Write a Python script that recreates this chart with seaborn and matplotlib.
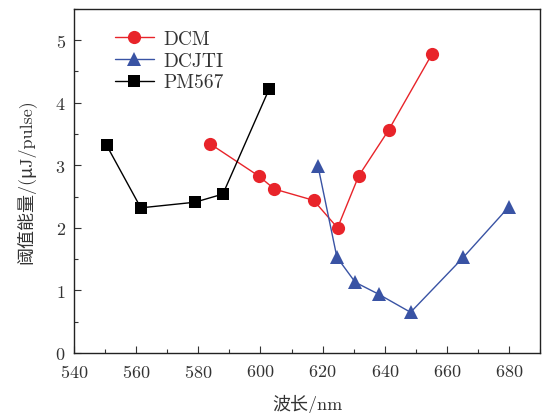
import seaborn as sns
import matplotlib.pyplot as plt
import pandas as pd
from matplotlib.ticker import MultipleLocator

# data
dcm_x = [583.9, 599.4, 604.5, 617.1, 624.8, 631.6, 641.2, 655.2]
dcm_y = [3.34, 2.83, 2.62, 2.44, 2.00, 2.83, 3.56, 4.78]
dcjti_x = [618.5, 624.6, 630.5, 638.0, 648.3, 665.3, 680.0]
dcjti_y = [2.99, 1.53, 1.13, 0.94, 0.65, 1.53, 2.34]
pm_x = [550.5, 561.5, 578.9, 587.9, 602.8]
pm_y = [3.32, 2.32, 2.41, 2.54, 4.22]

df = pd.concat([
    pd.DataFrame({"x": dcm_x, "y": dcm_y, "dye": "DCM"}),
    pd.DataFrame({"x": dcjti_x, "y": dcjti_y, "dye": "DCJTI"}),
    pd.DataFrame({"x": pm_x, "y": pm_y, "dye": "PM567"}),
], ignore_index=True)

sns.set_style("white")
plt.rcParams["font.family"] = ["cmr10", "Noto Sans CJK SC", "DejaVu Sans"]
plt.rcParams["axes.formatter.use_mathtext"] = True
plt.rcParams["axes.unicode_minus"] = False

fig = plt.figure(figsize=(5.44, 4.14), dpi=100)
ax = fig.add_axes([0.136, 0.145, 0.857, 0.831])

palette = {"DCM": "#e8242a", "DCJTI": "#3953a4", "PM567": "#000000"}
markers = {"DCM": "o", "DCJTI": "^", "PM567": "s"}
sns.lineplot(data=df, x="x", y="y", hue="dye", style="dye", palette=palette,
             markers=markers, dashes=False, sort=False, markersize=9.5,
             markeredgewidth=0, linewidth=1.0, ax=ax)
# squares look bigger than circles at the same size
for ln in ax.lines:
    if ln.get_marker() == "s":
        ln.set_markersize(8)

ax.set_xlim(540, 690)
ax.set_ylim(0, 5.5)
ax.xaxis.set_major_locator(MultipleLocator(20))
ax.xaxis.set_minor_locator(MultipleLocator(10))
ax.yaxis.set_major_locator(MultipleLocator(1))
ax.yaxis.set_minor_locator(MultipleLocator(0.5))
ax.tick_params(which="both", direction="in", top=False, right=False,
               bottom=True, left=True, labelsize=13, colors="#333333")
ax.tick_params(axis="x", which="major", pad=7)
ax.tick_params(axis="y", which="major", pad=6)
ax.tick_params(which="major", length=5, width=0.8)
ax.tick_params(which="minor", length=3, width=0.8)
for s in ax.spines.values():
    s.set_color("#222222")
    s.set_linewidth(1.0)

ax.set_xlabel("波长/nm", fontsize=13, color="#333333", labelpad=10)
ax.set_ylabel("阈值能量/(μJ/pulse)", fontsize=13, color="#333333", labelpad=14)

ax.legend(loc="upper left", frameon=False, fontsize=14, handlelength=2.0,
          handletextpad=0.5, labelspacing=0.2, borderaxespad=0.5,
          bbox_to_anchor=(0.05, 0.99))
for ln in ax.get_legend().get_lines():
    if ln.get_marker() == "s":
        ln.set_markersize(8)
for t in ax.get_legend().get_texts():
    t.set_color("#333333")

fig.savefig("out.png", dpi=100)
